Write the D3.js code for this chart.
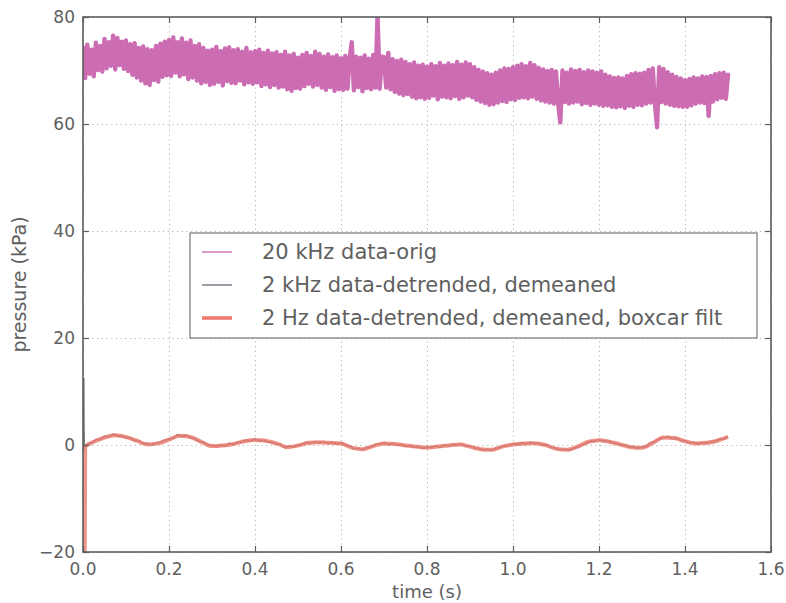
<!DOCTYPE html>
<html lang="en">
<head>
<meta charset="UTF-8" />
<script src="https://d3js.org/d3.v7.min.js"></script>
<title>pressure</title>
<style>
  body { margin: 0; background: #fff; }
  text { font-family: "DejaVu Sans", sans-serif; fill: #5f5f5f; }
  .grid line { stroke: #b4b4b4; stroke-dasharray: 1.2,3.5; }
  .spine { fill: none; stroke: #5a5f5a; stroke-width: 1.6; }
</style>
</head>
<body>
<script>
// tick labels
var xTicks = [0.0, 0.2, 0.4, 0.6, 0.8, 1.0, 1.2, 1.4, 1.6];
var yTicks = [-20, 0, 20, 40, 60, 80];

// legend names
var seriesNames = ["20 kHz data-orig", "2 kHz data-detrended, demeaned", "2 Hz data-detrended, demeaned, boxcar filt"];

// 20 kHz raw pressure, read every 0.005 s (kPa)
var orig20k = [
74.3,68.6,74.8,69.4,73.9,68.9,75.2,70.1,74.6,69.8,75.9,70.4,75.3,70.9,76.5,70.2,76.1,71.0,75.4,70.3,
75.6,69.9,74.9,69.2,75.1,68.7,74.2,68.1,74.5,67.6,74.0,67.3,73.8,68.2,74.6,67.9,75.0,68.8,75.4,69.1,
75.7,69.0,76.2,69.6,75.3,68.9,76.0,69.3,75.2,68.4,75.6,68.7,74.6,68.1,74.9,67.6,74.2,67.9,73.7,67.3,
73.9,67.5,74.4,67.9,73.6,67.2,74.1,68.0,74.3,67.7,73.8,67.6,74.0,68.1,73.5,67.4,74.2,67.8,73.4,67.5,
73.6,67.8,73.9,67.1,73.3,67.4,73.7,66.9,73.2,67.3,73.4,66.8,72.9,67.0,73.5,66.5,72.8,66.2,73.1,66.7,
72.4,66.6,72.9,67.1,73.3,67.5,72.7,67.0,73.5,67.3,73.1,66.8,72.6,66.4,73.0,66.9,72.5,66.2,72.8,66.5,
72.3,66.4,72.7,66.6,72.1,75.3,66.3,72.6,66.9,72.4,66.1,72.8,66.7,72.2,66.5,72.9,66.8,80.2,66.6,72.6,
72.5,66.8,73.3,66.5,72.1,66.0,71.8,65.7,72.0,65.4,71.6,65.6,71.2,65.1,71.5,64.8,70.9,65.0,71.1,64.7,
70.7,64.9,71.2,65.3,70.8,64.6,71.4,65.1,70.9,65.0,71.3,64.8,71.0,65.2,71.6,64.7,71.1,65.0,71.5,65.3,
71.2,65.0,70.6,64.5,70.1,64.2,69.8,63.9,69.5,63.6,69.2,63.7,69.6,64.0,70.0,64.3,70.4,64.1,70.3,64.6,
70.6,64.5,70.9,64.9,71.2,65.0,70.8,64.8,71.4,65.1,71.0,64.7,70.5,64.4,70.2,64.2,69.9,64.0,70.1,63.8,
69.8,63.9,60.3,70.0,64.1,69.6,63.8,70.2,64.0,69.9,64.2,70.1,63.7,69.7,63.9,70.0,63.6,69.8,63.8,69.6,
63.6,69.8,63.4,69.2,63.5,68.9,63.2,68.6,63.1,68.7,63.3,68.5,63.0,69.0,63.4,69.3,63.2,69.5,63.6,69.4,
63.5,69.6,63.8,70.1,64.0,70.4,63.9,59.4,70.6,64.1,70.3,63.8,69.7,63.6,69.2,63.4,68.8,63.3,68.5,63.2,
68.2,63.2,68.4,63.5,68.7,63.8,68.5,64.0,68.9,63.9,68.8,61.5,69.0,64.2,69.3,64.6,69.5,64.9,69.6,64.7,
69.2
];
var origStep = 0.005;

// 2 kHz detrended / demeaned, read every 0.01 s (kPa)
var detr2k = [
-0.4,0.2,0.3,1.0,1.0,1.6,1.5,2.0,1.7,1.7,
1.4,1.3,0.8,0.8,0.2,0.3,0.0,0.4,0.5,0.9,
1.1,1.3,1.9,1.6,1.8,1.4,1.2,0.7,0.5,0.0,
-0.1,-0.3,0.0,-0.2,0.3,0.1,0.5,0.6,0.9,0.8,
1.1,0.8,0.9,0.6,0.5,0.2,0.1,-0.5,-0.2,-0.4,
0.0,0.1,0.5,0.3,0.6,0.4,0.6,0.3,0.5,0.2,
0.4,0.0,-0.2,-0.7,-0.6,-0.9,-0.5,-0.4,0.1,0.2,
0.4,0.1,0.3,0.0,0.1,-0.2,-0.1,-0.4,-0.3,-0.6,
-0.4,-0.5,-0.2,-0.4,0.0,-0.2,0.1,0.0,0.2,-0.2,
-0.2,-0.6,-0.6,-1.0,-0.8,-1.0,-0.6,-0.5,-0.1,-0.1,
0.2,0.1,0.4,0.2,0.5,0.3,0.3,0.0,0.0,-0.5,
-0.6,-0.9,-0.8,-1.0,-0.6,-0.4,0.0,0.3,0.7,0.7,
1.0,0.7,0.8,0.4,0.3,0.0,0.0,-0.4,-0.3,-0.6,
-0.4,-0.3,0.4,0.6,1.2,1.3,1.6,1.2,1.3,0.8,
0.8,0.4,0.5,0.2,0.5,0.3,0.6,0.7,1.1,1.1,
1.6
];
var detrStep = 0.01;
// start-up transient of the 2 kHz trace [t, kPa]
var detr2kStart = [[0.0015, 12.5], [0.002, 3.0], [0.003, -0.6]];

// 2 Hz boxcar filtered, read every 0.025 s (kPa)
var filt2Hz = [
-0.3,0.6,1.4,1.8,1.5,0.8,0.1,0.3,1.0,1.75,
1.5,0.6,-0.2,-0.1,0.2,0.7,0.95,0.8,0.3,-0.4,
-0.1,0.4,0.5,0.4,0.3,-0.5,-0.8,-0.2,0.3,0.2,
-0.1,-0.3,-0.5,-0.3,-0.1,0.1,-0.3,-0.8,-0.9,-0.3,
0.1,0.3,0.35,0.0,-0.7,-0.9,-0.3,0.6,0.9,0.6,
0.1,-0.4,-0.5,0.4,1.4,1.3,0.7,0.3,0.4,0.8,
1.5
];
var filtStep = 0.025;
// start-up transient of the filtered trace [t, kPa]
var filt2HzStart = [[0.004, -24], [0.005, -0.3]];

var colors = ["#cc6cb3", "#6f7782", "#ee7c70"];

var W = 786, H = 603;
var margin = {left: 83, right: 15, top: 17, bottom: 51};
var iw = W - margin.left - margin.right, ih = H - margin.top - margin.bottom;

var svg = d3.select("body").append("svg").attr("width", W).attr("height", H);
var g = svg.append("g").attr("transform", "translate(" + margin.left + "," + margin.top + ")");

var x = d3.scaleLinear().domain([0, 1.6]).range([0, iw]);
var y = d3.scaleLinear().domain([-20, 80]).range([ih, 0]);

svg.append("defs").append("clipPath").attr("id", "clip")
  .append("rect").attr("width", iw).attr("height", ih);

// grid
g.append("g").attr("class", "grid")
  .call(d3.axisBottom(x).tickValues(xTicks).tickSize(ih).tickFormat(""))
  .call(function (s) { s.select(".domain").remove(); });
g.append("g").attr("class", "grid")
  .call(d3.axisLeft(y).tickValues(yTicks).tickSize(-iw).tickFormat(""))
  .call(function (s) { s.select(".domain").remove(); });

var orig = orig20k.map(function (v, i) { return [i * origStep, v]; });
var detr = detr2kStart.concat(detr2k.slice(1).map(function (v, i) { return [(i + 1) * detrStep, v]; }));
var filt = filt2HzStart.concat(filt2Hz.slice(1).map(function (v, i) { return [(i + 1) * filtStep, v]; }));

var line = d3.line().x(function (d) { return x(d[0]); }).y(function (d) { return y(d[1]); });
var smooth = d3.line().curve(d3.curveMonotoneX)
  .x(function (d) { return x(d[0]); }).y(function (d) { return y(d[1]); });

var plot = g.append("g").attr("clip-path", "url(#clip)");
plot.append("path").datum(orig).attr("d", line)
  .attr("fill", "none").attr("stroke", colors[0]).attr("stroke-width", 4.4)
  .attr("stroke-linejoin", "round").attr("stroke-linecap", "round");
plot.append("path").datum(detr).attr("d", line)
  .attr("fill", "none").attr("stroke", colors[1]).attr("stroke-width", 1.8);
plot.append("path").datum(filt).attr("d", smooth)
  .attr("fill", "none").attr("stroke", colors[2]).attr("stroke-width", 4).attr("stroke-opacity", 0.82);

// spines
g.append("rect").attr("class", "spine").attr("width", iw).attr("height", ih);

// ticks (inward, all four sides)
var tl = 6;
function tickMarks(sel) { sel.selectAll("text").remove(); sel.select(".domain").remove(); sel.selectAll("line").attr("stroke", "#5a5f5a").attr("stroke-width", 1.2); }
g.append("g").attr("transform", "translate(0," + ih + ")").call(d3.axisBottom(x).tickValues(xTicks).tickSize(-tl)).call(tickMarks);
g.append("g").call(d3.axisTop(x).tickValues(xTicks).tickSize(-tl)).call(tickMarks);
g.append("g").call(d3.axisLeft(y).tickValues(yTicks).tickSize(-tl)).call(tickMarks);
g.append("g").attr("transform", "translate(" + iw + ",0)").call(d3.axisRight(y).tickValues(yTicks).tickSize(-tl)).call(tickMarks);

// tick labels
g.selectAll(".xlab").data(xTicks).enter().append("text")
  .attr("x", function (d) { return x(d); }).attr("y", ih + 23)
  .attr("text-anchor", "middle").style("font-size", "17px")
  .text(function (d) { return d.toFixed(1); });
g.selectAll(".ylab").data(yTicks).enter().append("text")
  .attr("x", -8).attr("y", function (d) { return y(d) + 6; })
  .attr("text-anchor", "end").style("font-size", "17px")
  .text(function (d) { return d < 0 ? "\u2212" + Math.abs(d) : d; });

// axis titles
svg.append("text").attr("x", margin.left + x(0.8)).attr("y", 598)
  .attr("text-anchor", "middle").style("font-size", "18px").text("time (s)");
svg.append("text").attr("transform", "translate(26," + (margin.top + y(30)) + ") rotate(-90)")
  .attr("text-anchor", "middle").style("font-size", "19px").text("pressure (kPa)");

// legend
var lg = svg.append("g").attr("transform", "translate(190,233)");
lg.append("rect").attr("width", 567).attr("height", 105)
  .attr("fill", "#fff").attr("stroke", "#777").attr("stroke-width", 1.2);
var rows = lg.selectAll(".row").data(seriesNames).enter().append("g")
  .attr("transform", function (d, i) { return "translate(0," + (19 + i * 33) + ")"; });
rows.append("line").attr("x1", 12).attr("x2", 42).attr("y1", 0).attr("y2", 0)
  .attr("stroke", function (d, i) { return colors[i]; })
  .attr("stroke-width", function (d, i) { return i === 2 ? 3.6 : 1.4; });
rows.append("text").attr("x", 72).attr("y", 7).style("font-size", "21px").text(function (d) { return d; });
</script>
</body>
</html>
